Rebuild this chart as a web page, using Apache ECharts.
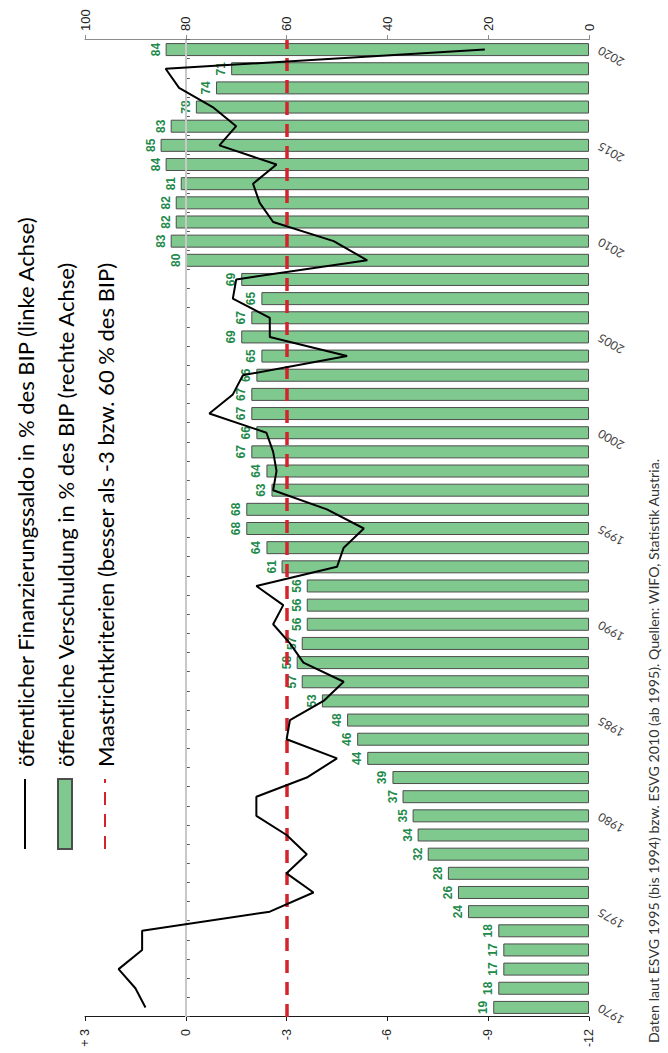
<!DOCTYPE html>
<html>
<head>
<meta charset="utf-8">
<title>Finanzierungssaldo und Verschuldung</title>
<script src="https://cdn.jsdelivr.net/npm/echarts@6/dist/echarts.min.js"></script>
<style>
  html, body { margin: 0; padding: 0; background: #fff; width: 668px; height: 1053px; overflow: hidden; }
  /* the chart is laid out landscape and turned a quarter turn to stand upright on the page */
  #chart { position: absolute; left: 0; top: 0; width: 1053px; height: 668px;
           transform-origin: 0 0; transform: translateY(1053px) rotate(-90deg); }
</style>
</head>
<body>
<div id="chart"></div>
<script>
// Jahre
const years = ['1970','1971','1972','1973','1974','1975','1976','1977','1978','1979',
               '1980','1981','1982','1983','1984','1985','1986','1987','1988','1989',
               '1990','1991','1992','1993','1994','1995','1996','1997','1998','1999',
               '2000','2001','2002','2003','2004','2005','2006','2007','2008','2009',
               '2010','2011','2012','2013','2014','2015','2016','2017','2018','2019','2020'];

// öffentliche Verschuldung in % des BIP (rechte Achse)
const schulden = [19, 18, 17, 17, 18, 24, 26, 28, 32, 34,
                  35, 37, 39, 44, 46, 48, 53, 57, 58, 57,
                  56, 56, 56, 61, 64, 68, 68, 63, 64, 67,
                  66, 67, 67, 66, 65, 69, 67, 65, 69, 80,
                  83, 82, 82, 81, 84, 85, 83, 78, 74, 71, 84];

// öffentlicher Finanzierungssaldo in % des BIP (linke Achse)
const saldo = [1.2, 1.5, 2.0, 1.3, 1.3, -2.5, -3.8, -3.0, -3.6, -3.0,
               -2.1, -2.1, -3.6, -4.5, -3.0, -3.1, -4.1, -4.7, -3.5, -3.1,
               -2.6, -2.9, -2.1, -4.5, -4.7, -5.3, -4.2, -2.6, -2.7, -2.6,
               -2.4, -0.7, -1.4, -1.7, -4.8, -2.5, -2.5, -1.4, -1.5, -5.4,
               -4.4, -2.6, -2.2, -2.0, -2.7, -1.0, -1.5, -0.8, 0.2, 0.6, -8.9];

// Maastrichtkriterium Defizit (entspricht 60 % Schuldenquote auf der rechten Achse)
const maastrichtSaldo = -3;

// Achsen
const saldoAxis = { min: -12, max: 3, step: 3 };
const schuldenAxis = { min: 0, max: 100, step: 20 };

const nameSaldo = 'öffentlicher Finanzierungssaldo in % des BIP (linke Achse)';
const nameSchulden = 'öffentliche Verschuldung in % des BIP (rechte Achse)';
const nameMaastricht = 'Maastrichtkriterien (besser als -3 bzw. 60 % des BIP)';
const quelle = 'Daten laut ESVG 1995 (bis 1994) bzw. ESVG 2010 (ab 1995). Quellen: WIFO, Statistik Austria.';

const red = '#d3232c';
const chart = echarts.init(document.getElementById('chart'), null, { renderer: 'svg', width: 1053, height: 668 });

chart.setOption({
  animation: false,
  textStyle: { fontFamily: 'Liberation Sans, Arial, sans-serif' },
  grid: { left: 36, right: 40, top: 85, bottom: 79, containLabel: false },
  legend: {
    orient: 'vertical',
    left: 198,
    top: 7,
    itemWidth: 70,
    itemHeight: 14,
    itemGap: 14,
    selectedMode: false,
    textStyle: { fontSize: 22, fontFamily: 'Lato, sans-serif', color: '#000', lineHeight: 26, padding: [0, 0, 0, 7] },
    data: [
      { name: nameSaldo, itemStyle: { opacity: 0 } },
      { name: nameSchulden, icon: 'rect' },
      { name: nameMaastricht, itemStyle: { opacity: 0 } }
    ]
  },
  xAxis: {
    type: 'category',
    data: years,
    position: 'bottom',
    boundaryGap: true,
    axisLine: { show: true, lineStyle: { color: '#595959', width: 1 } },
    axisTick: { show: true, interval: 0, length: 4, lineStyle: { color: '#595959' } },
    axisLabel: { interval: 4, rotate: 60, margin: 10, fontSize: 12, color: '#404040', fontFamily: 'Lato, sans-serif' },
    splitLine: { show: false }
  },
  yAxis: [
    {
      type: 'value',
      position: 'left',
      min: saldoAxis.min, max: saldoAxis.max, interval: saldoAxis.step,
      axisLine: { show: true, lineStyle: { color: '#1a1a1a', width: 1 } },
      axisTick: { show: true, length: 4, lineStyle: { color: '#1a1a1a' } },
      axisLabel: {
        margin: 12, fontSize: 12.5, color: '#222',
        formatter: v => (v > 0 ? '+ ' + v : String(v))
      },
      splitLine: { show: false }
    },
    {
      type: 'value',
      position: 'right',
      min: schuldenAxis.min, max: schuldenAxis.max, interval: schuldenAxis.step,
      axisLine: { show: true, lineStyle: { color: '#8c8c8c', width: 1 } },
      axisTick: { show: true, length: 5, lineStyle: { color: '#8c8c8c' } },
      axisLabel: { margin: 9, fontSize: 13, color: '#222' },
      splitLine: { show: false }
    }
  ],
  graphic: [{
    type: 'text',
    left: 10,
    top: 646,
    style: { text: quelle, fontSize: 14.2, fontFamily: 'Lato, sans-serif', fill: '#333' }
  }],
  series: [
    {
      name: nameSchulden,
      type: 'bar',
      yAxisIndex: 1,
      data: schulden,
      barWidth: 13,
      z: 2,
      itemStyle: { color: '#7fc98f', borderColor: '#4d4d4d', borderWidth: 1 },
      label: { show: true, position: 'top', distance: 4, color: '#21894a', fontWeight: 'bold', fontSize: 12 }
    },
    {
      name: nameSaldo,
      type: 'line',
      yAxisIndex: 0,
      data: saldo,
      symbol: 'none',
      z: 6,
      lineStyle: { color: '#000', width: 2 },
      itemStyle: { color: '#000' },
      markLine: {
        silent: true,
        symbol: 'none',
        label: { show: false },
        data: [
          { yAxis: 0, lineStyle: { color: '#c8c8c8', width: 2, type: 'solid' } },
          { yAxis: maastrichtSaldo, lineStyle: { color: red, width: 3.5, type: [13, 9] } }
        ]
      }
    },
    {
      name: nameMaastricht,
      type: 'line',
      yAxisIndex: 0,
      data: [],
      symbol: 'none',
      lineStyle: { color: red, width: 3.5, type: [13, 9] },
      itemStyle: { color: red }
    }
  ]
});
</script>
</body>
</html>
